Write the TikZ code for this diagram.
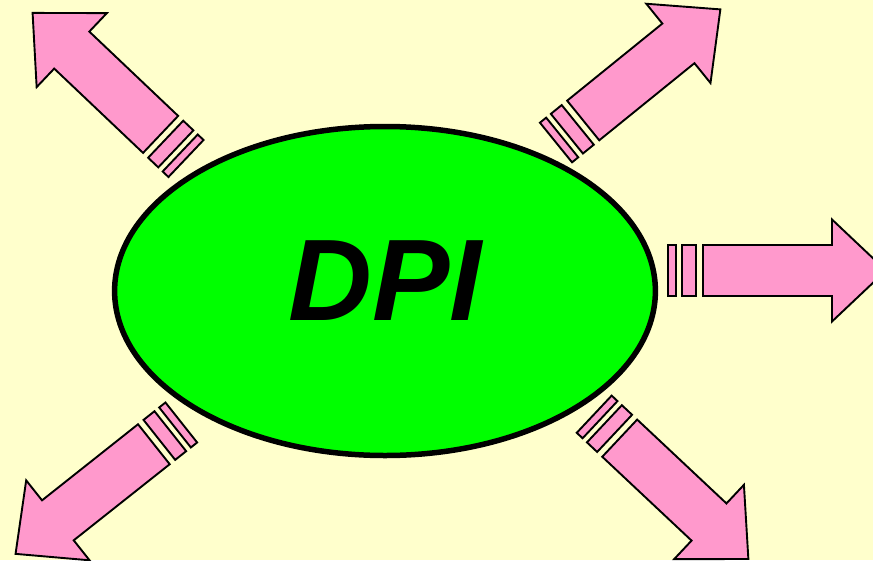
\documentclass[tikz,border=0pt]{standalone}
\usepackage{fontspec}
\setmainfont{Liberation Sans}
\usetikzlibrary{shapes.geometric}
\definecolor{bgyellow}{HTML}{FFFFCC}
\definecolor{dpigreen}{HTML}{00FF00}
\definecolor{arrowpink}{HTML}{FF99CC}
\tikzset{
  arrowpart/.style={fill=arrowpink, draw=black, line width=1.9pt, line join=miter},
  dpiellipse/.style={ellipse, fill=dpigreen, draw=black, line width=5.5pt,
    minimum width=540.8pt, minimum height=329pt, inner sep=0pt},
  dpitext/.style={inner sep=0pt, font=\fontsize{116}{116}\selectfont\bfseries\itshape}
}
% #1,#2: start of thin stripe (axis), #3: angle, #4: end of body
\newcommand\stripedarrow[4]{%
  \begin{scope}[shift={(#1,#2)}, rotate=#3]
    \draw[arrowpart] (0,-25.5) rectangle (8,25.5);
    \draw[arrowpart] (14,-25.5) rectangle (28,25.5);
    \draw[arrowpart] (35,-25.5) -- (#4,-25.5) -- (#4,-51) -- ({#4+54},0)
      -- (#4,51) -- (#4,25.5) -- (35,25.5) -- cycle;
  \end{scope}}
\begin{document}
\begin{tikzpicture}[x=1pt, y=-1pt]
  \fill[bgyellow] (0,0) rectangle (873,560);
  \useasboundingbox (0,0) rectangle (873,560);
  \node[dpiellipse] (dpi) at (385,291) {};
  \node[dpitext] (dpilabel) at (385,281) {DPI};
  \stripedarrow{668}{270.5}{0}{164}
  \stripedarrow{556}{142.5}{39}{157.5}
  \stripedarrow{186}{158.5}{136.5}{157.5}
  \stripedarrow{181.3}{422.5}{218.4}{157.5}
  \stripedarrow{594.2}{414.2}{-43.2}{157.5}
\end{tikzpicture}
\end{document}
